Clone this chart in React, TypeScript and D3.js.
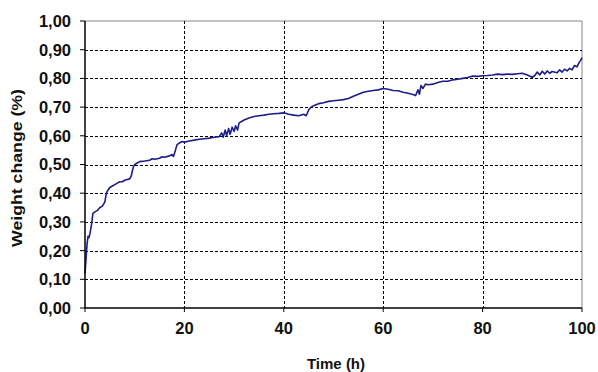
import * as d3 from "d3"

const times = [
  0, 0.2, 0.4, 0.6, 0.8, 1.0, 1.3, 1.6, 2.0, 2.5, 3.0, 3.5, 4.0, 4.3, 4.6, 5.0, 5.5, 6.0, 6.5, 7.0,
  7.5, 8.0, 8.5, 9.0, 9.3, 9.7, 10.0, 10.5, 11, 12, 13, 13.5, 14, 15, 15.5, 16, 17, 17.5, 17.8, 18.2,
  18.5, 19, 19.5, 20, 21, 22, 23, 24, 25, 26, 27, 27.5, 27.8, 28.2, 28.5, 28.9, 29.2, 29.6, 30, 30.3,
  30.7, 31, 31.5, 32, 33, 34, 35, 36, 37, 38, 39, 40, 41, 42, 43, 44, 44.5, 45, 45.5, 46,
  47, 48, 49, 50, 51, 52, 53, 54, 55, 56, 57, 58, 59, 60, 61, 62, 63, 64, 65, 66,
  66.5, 67, 67.3, 67.6, 68, 68.5, 69, 70, 71, 72, 73, 74, 75, 76, 77, 78, 79, 80, 81, 82,
  83, 84, 85, 86, 87, 88, 89, 90, 90.5, 91, 91.5, 92, 92.5, 93, 93.5, 94, 95, 95.5, 96, 96.5,
  97, 97.5, 98, 98.5, 99, 99.4, 99.7, 100,
]

const weightChange = [
  0.12, 0.17, 0.22, 0.25, 0.245, 0.26, 0.29, 0.33, 0.335, 0.34, 0.35, 0.355, 0.37, 0.4, 0.41, 0.42, 0.425, 0.43, 0.435, 0.44,
  0.44, 0.445, 0.448, 0.45, 0.46, 0.49, 0.5, 0.505, 0.51, 0.512, 0.515, 0.52, 0.518, 0.522, 0.527, 0.525, 0.53, 0.535, 0.528, 0.55,
  0.568, 0.575, 0.58, 0.578, 0.582, 0.585, 0.588, 0.59, 0.592, 0.595, 0.597, 0.61, 0.595, 0.62, 0.6, 0.625, 0.605, 0.63, 0.615, 0.635,
  0.62, 0.645, 0.65, 0.655, 0.662, 0.667, 0.67, 0.672, 0.675, 0.677, 0.678, 0.68, 0.675, 0.672, 0.67, 0.675, 0.67, 0.69, 0.7, 0.705,
  0.712, 0.715, 0.72, 0.722, 0.724, 0.726, 0.73, 0.738, 0.745, 0.752, 0.755, 0.758, 0.76, 0.765, 0.762, 0.758, 0.757, 0.752, 0.748, 0.744,
  0.74, 0.76, 0.745, 0.775, 0.765, 0.78, 0.778, 0.78, 0.786, 0.79, 0.79, 0.795, 0.797, 0.8, 0.803, 0.808, 0.807, 0.809, 0.81, 0.812,
  0.815, 0.813, 0.815, 0.814, 0.816, 0.818, 0.812, 0.804, 0.81, 0.822, 0.812, 0.825, 0.815, 0.826, 0.818, 0.824, 0.82, 0.83, 0.822, 0.832,
  0.826, 0.835, 0.83, 0.845, 0.84, 0.855, 0.862, 0.872,
]

const xTicks = [0, 20, 40, 60, 80, 100]
const yTicks = [0, 0.1, 0.2, 0.3, 0.4, 0.5, 0.6, 0.7, 0.8, 0.9, 1.0]

const W = 598
const H = 372
const left = 85
const right = 582
const top = 21
const bottom = 308

export default function App() {
  const x = d3.scaleLinear().domain([0, 100]).range([left, right])
  const y = d3.scaleLinear().domain([0, 1]).range([bottom, top])

  const pts = times.map((t, i) => [t, weightChange[i]] as [number, number])
  const line = d3
    .line<[number, number]>()
    .x((d) => x(d[0]))
    .y((d) => y(d[1]))

  const fmt = (v: number) => v.toFixed(2).replace(".", ",")
  const font = "Arial, 'Liberation Sans', sans-serif"

  return (
    <svg
      width={W}
      height={H}
      style={{ position: "absolute", left: 0, top: 0, background: "#fff" }}
      fontFamily={font}
    >
      {/* frame top/right */}
      <line x1={left} x2={right} y1={top} y2={top} stroke="#888" strokeWidth={1} />
      <line x1={right} x2={right} y1={top} y2={bottom} stroke="#888" strokeWidth={1} />

      {/* grid */}
      {yTicks.slice(1, -1).map((v) => (
        <line
          key={"gy" + v}
          x1={left}
          x2={right}
          y1={Math.round(y(v)) + 0.5}
          y2={Math.round(y(v)) + 0.5}
          stroke="#000"
          strokeWidth={1}
          strokeDasharray="3,2"
        />
      ))}
      {xTicks.slice(1, -1).map((v) => (
        <line
          key={"gx" + v}
          x1={Math.round(x(v)) + 0.5}
          x2={Math.round(x(v)) + 0.5}
          y1={top}
          y2={bottom}
          stroke="#000"
          strokeWidth={1}
          strokeDasharray="3,2"
        />
      ))}

      {/* data */}
      <path d={line(pts) ?? ""} fill="none" stroke="#1c1c8a" strokeWidth={1.6} strokeLinejoin="round" />

      {/* axes */}
      <line x1={left} x2={left} y1={top} y2={bottom} stroke="#000" strokeWidth={1.5} />
      <line x1={left} x2={right} y1={bottom} y2={bottom} stroke="#000" strokeWidth={1.5} />

      {yTicks.map((v) => (
        <g key={"ty" + v}>
          <line x1={left - 5} x2={left} y1={y(v)} y2={y(v)} stroke="#000" strokeWidth={1} />
          <text
            x={71}
            y={y(v)}
            dy="0.36em"
            textAnchor="end"
            fontSize={16.5}
            fontWeight="bold"
            fill="#111"
          >
            {fmt(v)}
          </text>
        </g>
      ))}

      {xTicks.map((v) => (
        <g key={"tx" + v}>
          <line x1={x(v)} x2={x(v)} y1={bottom} y2={bottom + 4} stroke="#000" strokeWidth={1} />
          <text
            x={x(v)}
            y={334}
            textAnchor="middle"
            fontSize={16.5}
            fontWeight="bold"
            fill="#111"
          >
            {v}
          </text>
        </g>
      ))}

      <text x={336} y={369} textAnchor="middle" fontSize={15} fontWeight="bold" fill="#111">
        Time (h)
      </text>
      <text
        transform={`translate(17,168) rotate(-90)`}
        dy="0.35em"
        textAnchor="middle"
        fontSize={15}
        fontWeight="bold"
        fill="#111"
        textLength={158}
        lengthAdjust="spacingAndGlyphs"
      >
        Weight change (%)
      </text>
    </svg>
  )
}
